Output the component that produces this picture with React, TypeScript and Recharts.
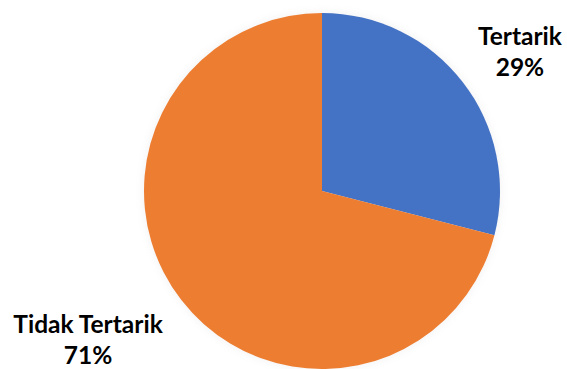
import React from "react";
import { PieChart, Pie, Cell } from "recharts";

const categories = ["Tertarik", "Tidak Tertarik"];
const values = [29, 71];
const colors = ["#4472C4", "#ED7D31"];

const data = categories.map((name, i) => ({ name, value: values[i] }));

const RADIAN = Math.PI / 180;
const labelShift = [
  { dx: 2, dy: 11 },
  { dx: -38, dy: -5 },
];

const renderLabel = (props: any) => {
  const { cx, cy, midAngle, outerRadius, index, name, value } = props;
  const r = outerRadius + 70;
  const x = cx + r * Math.cos(-midAngle * RADIAN) + labelShift[index].dx;
  const y = cy + r * Math.sin(-midAngle * RADIAN) + labelShift[index].dy;
  return (
    <text
      x={x}
      y={y}
      textAnchor="middle"
      fill="#000"
      style={{ fontFamily: "Lato, 'Open Sans', sans-serif", fontWeight: 700, fontSize: 24.5 }}
    >
      <tspan x={x} dy={-5}>{name}</tspan>
      <tspan x={x} dy={31}>{`${value}%`}</tspan>
    </text>
  );
};

export default function App() {
  return (
    <div style={{ position: "absolute", left: 0, top: 0, width: 567, height: 369, background: "#fff" }}>
      <style>{`.pie-shadow { filter: blur(3px); opacity: 0.35; }`}</style>
      <PieChart width={567} height={369} margin={{ top: 0, right: 0, bottom: 0, left: 0 }}>
        <Pie
          data={data}
          dataKey="value"
          cx={322}
          cy={191}
          outerRadius={178}
          startAngle={90}
          endAngle={-270}
          stroke="none"
          fill="#888"
          className="pie-shadow"
          isAnimationActive={false}
          label={false}
          labelLine={false}
        />
        <Pie
          data={data}
          dataKey="value"
          cx={322}
          cy={191}
          outerRadius={178}
          startAngle={90}
          endAngle={-270}
          stroke="none"
          isAnimationActive={false}
          label={renderLabel}
          labelLine={false}
        >
          {data.map((d, i) => (
            <Cell key={d.name} fill={colors[i]} />
          ))}
        </Pie>
      </PieChart>
    </div>
  );
}
